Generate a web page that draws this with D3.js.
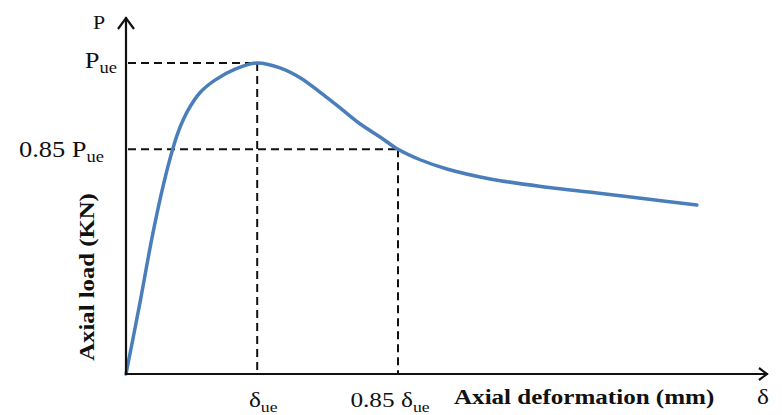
<!DOCTYPE html>
<html>
<head>
<meta charset="utf-8">
<script src="https://cdn.jsdelivr.net/npm/d3@7"></script>
<style>
  body { margin: 0; background: #fff; }
  svg { display: block; }
  svg text { font-family: "Liberation Serif", "Times New Roman", serif; fill: #111; }
</style>
</head>
<body>
<svg id="chart" width="782" height="415"></svg>
<script>
// Axial load–deformation curve (schematic, load normalised by the peak load Pue)
const deformation = [0, 0.44, 0.81, 1.13, 1.38, 1.63, 1.94, 2.31, 2.78, 3.41, 4.1,
  4.81, 5.44, 6.06, 6.69, 7.31, 7.94, 8.5,
  9.19, 10.03, 11.38, 13.16, 14.72, 16.28, 17.84];
const load = [0, 0.481, 0.661, 0.769, 0.833, 0.882, 0.921, 0.951, 0.972, 0.990, 1,
  0.992, 0.976, 0.952, 0.925, 0.897, 0.873, 0.85,
  0.830, 0.812, 0.792, 0.775, 0.763, 0.750, 0.737];

// Reference levels marked with dashed guides
const loadLevels = [1, 0.85];
const loadLabels = [["P", "ue"], ["0.85 P", "ue"]];
const deformationLevels = [4.1, 8.5];
const deformationLabels = [["\u03b4", "ue"], ["0.85 \u03b4", "ue"]];

const svg = d3.select("#chart");
const x = d3.scaleLinear().domain([0, 20]).range([126, 766]);
const y = d3.scalePow().exponent(2).domain([0, 1]).range([374, 63]);

const x0 = x(0), y0 = y(0);
const ink = "#111";
const stretch = 1.15; // labels are set slightly wide

// Dashed guides from the curve back to the axes
loadLevels.forEach((lv, i) => {
  const dx = deformationLevels[i];
  svg.append("line")
    .attr("x1", x0 + 2).attr("x2", x(dx))
    .attr("y1", y(lv)).attr("y2", y(lv))
    .attr("stroke", ink).attr("stroke-width", 2).attr("stroke-dasharray", "8,5");
  svg.append("line")
    .attr("x1", x(dx)).attr("x2", x(dx))
    .attr("y1", y(lv)).attr("y2", y0)
    .attr("stroke", ink).attr("stroke-width", 2).attr("stroke-dasharray", "8,5");
});

// Curve
const pts = deformation.map((d, i) => [d, load[i]]);
svg.append("path")
  .datum(pts)
  .attr("fill", "none")
  .attr("stroke", "#4a7ebb")
  .attr("stroke-width", 3.5)
  .attr("stroke-linecap", "round")
  .attr("d", d3.line().x(d => x(d[0])).y(d => y(d[1])).curve(d3.curveCatmullRom.alpha(0.5)));

// Axes with open arrowheads
const yTop = 17, xEnd = 768;
svg.append("line").attr("x1", x0).attr("x2", x0).attr("y1", y0 + 1).attr("y2", yTop)
  .attr("stroke", ink).attr("stroke-width", 2.2);
svg.append("path").attr("d", `M${x0 - 8},${yTop + 12}L${x0},${yTop + 1}L${x0 + 8},${yTop + 12}`)
  .attr("fill", "none").attr("stroke", ink).attr("stroke-width", 2.2);
svg.append("line").attr("x1", x0 - 1).attr("x2", xEnd).attr("y1", y0).attr("y2", y0)
  .attr("stroke", ink).attr("stroke-width", 2.2);
svg.append("path").attr("d", `M${xEnd - 9},${y0 - 6}L${xEnd - 1},${y0}L${xEnd - 9},${y0 + 6}`)
  .attr("fill", "none").attr("stroke", ink).attr("stroke-width", 2.2);

// Text placed at (tx, ty), widened horizontally
function wideText(tx, ty, anchor, size, rotate) {
  return svg.append("text")
    .attr("transform", `translate(${tx},${ty})` + (rotate ? ` rotate(${rotate})` : "") + ` scale(${stretch},1)`)
    .attr("text-anchor", anchor)
    .attr("font-size", size);
}

// Label with subscript
function subLabel(t, parts, size) {
  t.append("tspan").text(parts[0]);
  t.append("tspan").text(parts[1]).attr("font-size", size * 0.7).attr("dy", 5);
}

// Load level labels
const loadLabelEnds = [117, 104];
const loadLabelShift = [5, 8];
loadLevels.forEach((lv, i) => {
  subLabel(wideText(loadLabelEnds[i], y(lv) + loadLabelShift[i], "end", 23), loadLabels[i], 23);
});

// Deformation level labels
const defLabelShift = [6, -8];
deformationLevels.forEach((dv, i) => {
  subLabel(wideText(x(dv) + defLabelShift[i], 407, "middle", 22), deformationLabels[i], 22);
});

// Axis symbols
wideText(99, 29, "middle", 19).text("P");
wideText(763, 404, "middle", 22).text("\u03b4");

// Axis titles
wideText(454, 404, "start", 21.8).attr("font-weight", "bold").text("Axial deformation (mm)");
wideText(94, 277, "middle", 21.5, -90).attr("font-weight", "bold").text("Axial load (KN)");
</script>
</body>
</html>
